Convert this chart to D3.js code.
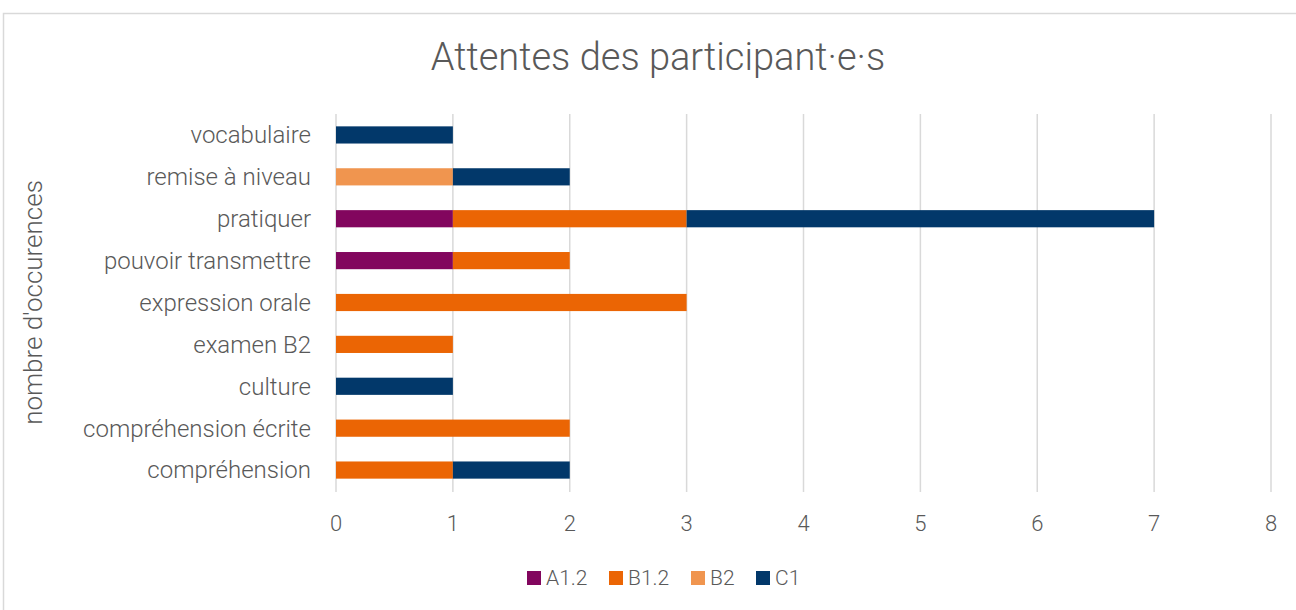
<!DOCTYPE html>
<html>
<head>
<meta charset="utf-8">
<script src="https://cdn.jsdelivr.net/npm/d3@7"></script>
<style>
  body { margin: 0; background: #fff; }
  text { font-family: Roboto, "Open Sans", sans-serif; font-weight: 300; fill: #595959; }
</style>
</head>
<body>
<div id="chart"></div>
<script>
// categories, top to bottom
const categories = ["vocabulaire", "remise à niveau", "pratiquer", "pouvoir transmettre",
    "expression orale", "examen B2", "culture", "compréhension écrite", "compréhension"];
const levels = ["A1.2", "B1.2", "B2", "C1"];
const a12 = [0, 0, 1, 1, 0, 0, 0, 0, 0];
const b12 = [0, 0, 2, 1, 3, 1, 0, 2, 1];
const b2 = [0, 1, 0, 0, 0, 0, 0, 0, 0];
const c1 = [1, 1, 4, 0, 0, 0, 1, 0, 1];
const xTicks = [0, 1, 2, 3, 4, 5, 6, 7, 8];
const colors = ["#82065E", "#EB6504", "#F0954F", "#02386A"];

const W = 1296, H = 610;
const plot = { left: 336, right: 1271, top: 114, bottom: 491 };

const svg = d3.select("#chart").append("svg")
    .attr("width", W)
    .attr("height", H);

// chart frame
svg.append("rect")
    .attr("x", 3.5).attr("y", 13.5)
    .attr("width", W + 10).attr("height", H + 10)
    .attr("fill", "none")
    .attr("stroke", "#d9d9d9")
    .attr("stroke-width", 1.5);

svg.append("text")
    .attr("x", 658).attr("y", 70)
    .attr("text-anchor", "middle")
    .style("font-size", "38px")
    .text("Attentes des participant·e·s");

const x = d3.scaleLinear().domain([0, 8]).range([plot.left, plot.right]);
const y = d3.scaleBand().domain(categories).range([plot.top, plot.bottom])
    .paddingInner(0.59).paddingOuter(0.295);

// gridlines
svg.append("g").selectAll("line")
    .data(xTicks)
    .join("line")
    .attr("x1", d => x(d)).attr("x2", d => x(d))
    .attr("y1", plot.top).attr("y2", plot.bottom + 1)
    .attr("stroke", "#d9d9d9")
    .attr("stroke-width", 1.5);

// x tick labels
svg.append("g").selectAll("text")
    .data(xTicks)
    .join("text")
    .attr("x", d => x(d))
    .attr("y", 531)
    .attr("text-anchor", "middle")
    .style("font-size", "22px")
    .text(d => d);

// stacked bars
const table = categories.map((c, i) => ({ cat: c, "A1.2": a12[i], "B1.2": b12[i], "B2": b2[i], "C1": c1[i] }));
const stacked = d3.stack().keys(levels)(table);

svg.append("g").selectAll("g")
    .data(stacked)
    .join("g")
    .attr("fill", (d, i) => colors[i])
    .selectAll("rect")
    .data(d => d.filter(s => s[1] > s[0]))
    .join("rect")
    .attr("x", d => x(d[0]))
    .attr("y", d => y(d.data.cat))
    .attr("width", d => x(d[1]) - x(d[0]))
    .attr("height", y.bandwidth());

// category labels
svg.append("g").selectAll("text")
    .data(categories)
    .join("text")
    .attr("x", 311)
    .attr("y", d => y(d) + y.bandwidth() / 2)
    .attr("dy", "0.35em")
    .attr("text-anchor", "end")
    .style("font-size", "24px")
    .text(d => d);

// axis title
svg.append("text")
    .attr("transform", `translate(42, ${(plot.top + plot.bottom) / 2}) rotate(-90)`)
    .attr("text-anchor", "middle")
    .style("font-size", "26px")
    .text("nombre d'occurences");

// legend
const legendX = [527, 609, 691, 756];
const legend = svg.append("g").selectAll("g")
    .data(levels)
    .join("g")
    .attr("transform", (d, i) => `translate(${legendX[i]}, 578)`);
legend.append("rect")
    .attr("x", 0).attr("y", -7)
    .attr("width", 14).attr("height", 14)
    .attr("fill", (d, i) => colors[i]);
legend.append("text")
    .attr("x", 19)
    .attr("dy", "0.35em")
    .style("font-size", "21px")
    .text(d => d);
</script>
</body>
</html>
